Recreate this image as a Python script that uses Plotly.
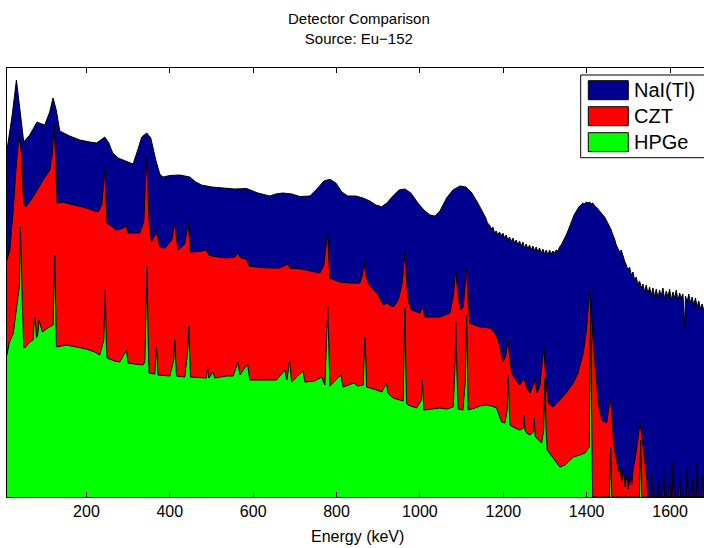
import plotly.graph_objects as go

# ---------------- data (energy in keV, counts in arbitrary units) ----------------
nai_energy = [9.4, 21.9, 32, 41.1, 49.5, 63.9, 81.4, 92.7, 99.9, 111.9, 119.8, 127.5, 135.9,
              159.9, 183.9, 207.9, 224, 234.3, 243.9, 253.5, 263.1, 275.8, 291.9, 311.8, 323.1,
              332.7, 344.7, 354.3, 366.3, 375.9, 383.8, 399.9, 423.9, 438.3, 447.9, 462.3, 476,
              500.7, 527.1, 555.9, 584, 611.1, 639.9, 654.3, 671.1, 692.7, 711.9, 735.9, 755.1,
              769.5, 783.9, 798.3, 812.7, 827.1, 846.3, 863.1, 879.9, 894.3, 908, 920.7, 935.1,
              949.5, 963.9, 978.3, 995.1, 1009.5, 1023.9, 1035.9, 1047.9, 1064, 1079.1, 1095.9,
              1110.3, 1124.7, 1139, 1144, 1149, 1153, 1158, 1162, 1167, 1171, 1175, 1179, 1183,
              1187, 1191, 1195, 1199, 1203, 1207, 1211, 1215, 1219, 1223, 1227, 1231, 1235, 1239,
              1243, 1247, 1251, 1255, 1259, 1263, 1267, 1271, 1275, 1279, 1283, 1287, 1291, 1295,
              1299, 1303, 1307, 1311, 1315, 1319, 1323, 1327, 1331, 1335, 1339, 1343, 1347, 1351,
              1355, 1359, 1363, 1367, 1371, 1375, 1379, 1383, 1387, 1391, 1395, 1399, 1403, 1407,
              1411, 1415, 1419, 1423, 1427, 1431, 1435, 1439, 1443, 1447, 1451, 1455, 1459, 1463,
              1467, 1471, 1475, 1479, 1483, 1487, 1491, 1495, 1499, 1503, 1507, 1511, 1515, 1519,
              1523, 1527, 1531, 1535, 1539, 1543, 1547, 1551, 1555, 1559, 1563, 1567, 1571, 1575,
              1579, 1583, 1587, 1591, 1595, 1599, 1603, 1607, 1611, 1615, 1619, 1623, 1627, 1631,
              1635, 1637, 1641, 1645, 1649, 1653, 1657, 1661, 1665, 1669, 1673, 1677, 1681.5]
nai_counts = [347, 382, 417, 387, 355, 362, 375, 373, 372, 385, 399, 387, 366,
              361, 357, 355, 354, 357, 360, 354, 344, 339, 336, 333, 347,
              360, 364, 359, 337, 323, 320, 321.5, 322, 321, 320, 315, 312,
              310, 309, 308, 308.5, 304, 301, 303, 304, 303, 300.5, 301, 309,
              316, 317.7, 314, 305, 301, 301, 299, 296, 292, 290.3, 294, 301,
              307, 308, 304, 294, 287, 282, 281, 286, 299, 307, 311,
              310, 304, 294, 290, 287, 283, 279, 274, 272, 268, 270, 264, 266,
              262, 265, 261, 264, 259, 262, 257, 260, 255, 259, 254, 257, 252, 256,
              251, 255, 249, 253, 248, 252, 247, 251, 246, 250, 245, 249, 244, 248,
              243, 247, 242, 247, 243, 246, 244, 247, 246, 250, 252, 255, 258, 262,
              266, 271, 275, 279, 283, 286, 288, 291, 292, 294, 293, 295, 294, 295,
              293, 294, 291, 290, 288, 286, 284, 283, 280, 277, 274, 270, 267, 262,
              258, 252, 249, 245, 247, 240, 236, 232, 227, 230, 222, 225, 217, 220,
              212, 216, 209, 213, 205, 212, 203, 210, 202, 209, 200, 208, 199, 207,
              201, 209, 198, 206, 200, 208, 197, 205, 199, 207, 196, 204, 199, 203,
              170, 201, 195, 203, 194, 200, 192, 199, 190, 196, 188, 193, 186]

czt_energy = [9.4, 16.1, 24.2, 30.7, 38.2, 44, 47.1, 49.5, 54.3, 71.8, 95.8, 111.9, 117.9,
              122.2, 126.3, 129.4, 143.8, 159.9, 191.8, 227.8, 236.7, 243.9, 249.4, 272, 289.5,
              294.3, 299.8, 327.9, 337.5, 344, 350.2, 356, 368, 375.9, 387.9, 404.7, 411.4,
              419.8, 435.9, 443.8, 449.6, 471.9, 488, 493.5, 500, 536, 555.9, 563.8, 570.3,
              584, 590.2, 615.9, 647.8, 663.9, 683.8, 687.9, 716, 735.9, 759.9, 769.5, 778.4,
              783.9, 807.9, 831.9, 855.9, 861.9, 866.2, 870.3, 875.8, 889.5, 899.8, 911.8, 920,
              935.8, 947.8, 956.7, 963.9, 969.4, 973.5, 980, 999.9, 1006.4, 1011.9, 1047.9,
              1071.9, 1080.3, 1085.6, 1091.8, 1097.6, 1103.8, 1107.9, 1112, 1115.8, 1119.9,
              1143.9, 1167.9, 1179.9, 1187.8, 1194.3, 1199.8, 1206.3, 1211.8, 1215.9, 1220,
              1230.3, 1239.9, 1249.5, 1256.7, 1263.9, 1275.9, 1281.4, 1287.9, 1293.9, 1297.5,
              1302.3, 1307.8, 1319.8, 1335.9, 1350.3, 1367.8, 1379.1, 1391.8, 1399.5, 1404.3,
              1407.9, 1411.5, 1415.8, 1422.3, 1428.3, 1436, 1448, 1452.3, 1455.9, 1459.5,
              1463.8, 1468, 1472, 1476, 1480, 1484, 1488, 1492, 1496, 1500, 1504, 1508, 1512,
              1516, 1522, 1528, 1534, 1540, 1544, 1547, 1555, 1557, 1559, 1569, 1571, 1573,
              1583, 1585, 1587, 1597, 1599, 1601, 1605, 1607, 1609, 1621, 1623, 1625, 1639,
              1641, 1643, 1651, 1653, 1655, 1663, 1665, 1667, 1675, 1677, 1679, 1681.5]
czt_counts = [237, 247, 287, 327, 362, 344, 312, 294, 290, 300, 317, 327, 342,
              374, 337, 294, 295, 293, 290, 285, 292, 327, 274, 267, 269,
              272, 264, 264, 275, 340, 277, 255, 265, 250, 249, 257, 274,
              247, 253, 275, 245, 245.5, 247, 242, 241, 239, 240, 244, 239,
              238, 231, 229.5, 229, 229, 233, 229, 228, 226.5, 224, 232, 265,
              219, 215, 214, 214, 222, 235, 222, 214, 207, 202, 192, 194,
              190, 197, 212, 245, 207, 194, 187, 184, 190, 180, 180,
              184, 202, 227, 202, 187, 190, 207, 229, 197, 174,
              170, 169, 164, 157, 145, 135, 142, 157, 137, 124,
              117, 112, 119, 109, 104, 117, 104, 112, 137, 150,
              117, 94, 90, 97, 104, 114, 124, 144, 167, 192,
              207, 187, 154, 122, 92, 77, 74, 87, 100, 87,
              60, 45, 37, 25, 30, 15, 28, 10, 22, 8, 20, 12, 30,
              37, 57, 74, 57, 37, 20, 0, 0, 22, 0, 0, 15, 0,
              0, 28, 0, 0, 20, 0, 0, 35, 0, 0, 25, 0, 0,
              30, 0, 0, 18, 0, 0, 33, 0, 0, 22, 0, 0]

hpge_energy = [9.4, 14.2, 24.2, 30.3, 35.8, 39.4, 41.6, 43.5, 46.4, 49.5, 51.9, 63.9, 71.8,
               74.7, 77.1, 80, 83.1, 86.2, 89.1, 94.4, 107.1, 119.8, 122, 123.9, 125.8, 128,
               152, 176, 200, 219.9, 231.9, 241.5, 245.1, 247.5, 249.4, 267.9, 279.9, 296,
               299.8, 315.9, 335.8, 339.9, 343.5, 345.4, 347.6, 350.2, 363.9, 368, 371.8,
               387.9, 399.9, 409.5, 411.9, 416, 435.9, 443.1, 445.5, 449.6, 471.9, 488, 490.3,
               493.5, 503.8, 507.9, 536, 551.8, 563.8, 567.9, 586.4, 591.9, 615.9, 656, 675.9,
               680.7, 687.9, 692, 719.8, 723.9, 747.9, 764, 771.9, 776.7, 779.1, 781.5, 783.9,
               810.3, 815.8, 841.5, 851.1, 863.8, 866.2, 867.9, 870.3, 872, 896, 908.7, 913.5,
               920, 923.1, 935.8, 959.8, 962, 963.9, 965.8, 968, 971.8, 991.9, 1003.4, 1005.8,
               1009.5, 1023.9, 1047.9, 1064.7, 1079.8, 1083.9, 1086.3, 1088.7, 1091.8, 1103.1,
               1109.1, 1112, 1113.9, 1115.8, 1131.9, 1143.9, 1160, 1172.7, 1184, 1189.5, 1196,
               1203.9, 1209.4, 1211.8, 1214, 1215.9, 1227.9, 1239.9, 1248.3, 1250.2, 1251.9,
               1256, 1263.9, 1272.3, 1274.2, 1276.4, 1280, 1292, 1297, 1299.9, 1302.8, 1305.4,
               1319.8, 1335.9, 1347.9, 1367.8, 1383.9, 1395.9, 1406.2, 1407.9, 1409.6, 1411.5,
               1414.4, 1454.7, 1457.6, 1460.2, 1526.7, 1529.6, 1532.2, 1681.5]
hpge_counts = [142, 154, 163, 182, 202, 212, 270, 227, 190, 150, 149, 155, 157,
               177, 180, 159, 162, 177, 173, 165, 169, 172, 207, 242, 197, 150,
               152, 150, 148, 145, 142, 157, 207, 157, 139, 136, 135, 147,
               134, 133, 132, 135, 197, 232, 167, 124, 123, 150, 122,
               121, 121, 137, 157, 121, 120, 147, 171, 120, 119, 119, 130,
               119, 125, 119, 121, 121, 135, 122, 133, 117, 117, 117, 127,
               117, 137, 115, 126, 115, 116, 120, 112, 157, 190, 152, 111,
               122, 110, 114, 111, 112, 137, 160, 137, 110, 107, 105, 109,
               114, 104, 99, 96, 137, 189, 137, 94, 92, 89, 97, 117,
               87, 88, 89, 88, 90, 127, 175, 127, 88, 87,
               117, 182, 127, 87, 89, 91, 92, 91, 89, 82, 75,
               74, 87, 122, 87, 72, 69, 67, 69, 82, 67,
               64, 62, 65, 79, 61, 59, 54, 67, 119, 67, 47,
               39, 30, 32, 40, 42, 44, 50, 117, 197, 97,
               0, 0, 50, 0, 0, 57, 0, 0]

series_names = ["NaI(Tl)", "CZT", "HPGe"]
series_colors = ["#00008F", "#FF0000", "#00FF00"]
x_tick_values = [200, 400, 600, 800, 1000, 1200, 1400, 1600]
x_range = [9.4, 1681.5]
y_range = [0, 429]

# ---------------- figure ----------------
W, H = 704, 548
ML, MR, MT, MB = 7, 0, 68, 51
PW, PH = W - ML - MR, H - MT - MB


def px(x):
    return (x - ML) / PW


def py(y):
    return (H - MB - y) / PH


FONT = "Liberation Sans, Arial, Helvetica, sans-serif"

fig = go.Figure()
for name, xs, ys, col in zip(series_names,
                             [nai_energy, czt_energy, hpge_energy],
                             [nai_counts, czt_counts, hpge_counts],
                             series_colors):
    fig.add_trace(go.Scatter(x=xs, y=ys, name=name, mode="lines", fill="tozeroy",
                             fillcolor=col, line=dict(color="black", width=1),
                             showlegend=False, hoverinfo="x+y+name"))

# custom MATLAB-style legend
shapes = [dict(type="rect", xref="paper", yref="paper", x0=px(580.7), x1=px(720),
               y0=py(157.7), y1=py(75), line=dict(color="black", width=1),
               fillcolor="white", layer="above")]
annotations = []
row_top = [80.7, 106.7, 132.7]
for name, col, top in zip(series_names, series_colors, row_top):
    shapes.append(dict(type="rect", xref="paper", yref="paper", x0=px(588.3), x1=px(628.3),
                       y0=py(top + 19), y1=py(top), fillcolor=col,
                       line=dict(color="black", width=1), layer="above"))
    annotations.append(dict(text=name, xref="paper", yref="paper", x=px(632), y=py(top + 9.5),
                            xanchor="left", yanchor="middle", showarrow=False,
                            font=dict(family=FONT, size=20, color="black")))

annotations.append(dict(text="Detector Comparison<br>Source: Eu\u2212152", xref="paper",
                        yref="paper", x=px(359), y=py(28), xanchor="center", yanchor="middle",
                        showarrow=False, font=dict(family=FONT, size=15, color="black")))
annotations.append(dict(text="Energy (keV)", xref="paper", yref="paper", x=px(357),
                        y=py(536), xanchor="center", yanchor="middle", showarrow=False,
                        font=dict(family=FONT, size=16, color="black")))

fig.update_layout(
    width=W, height=H, margin=dict(l=ML, r=MR, t=MT, b=MB, pad=0),
    paper_bgcolor="white", plot_bgcolor="white",
    xaxis=dict(range=x_range, tickvals=x_tick_values, ticks="inside", ticklen=5,
               tickcolor="black", showline=True, linecolor="black", linewidth=1,
               mirror="ticks", showgrid=False, zeroline=False,
               tickfont=dict(family=FONT, size=16, color="black")),
    yaxis=dict(range=y_range, showticklabels=False, ticks="", showline=True,
               linecolor="black", linewidth=1, mirror=False, showgrid=False, zeroline=False),
    shapes=shapes, annotations=annotations, font=dict(family=FONT),
)

fig.write_html("out.html")
